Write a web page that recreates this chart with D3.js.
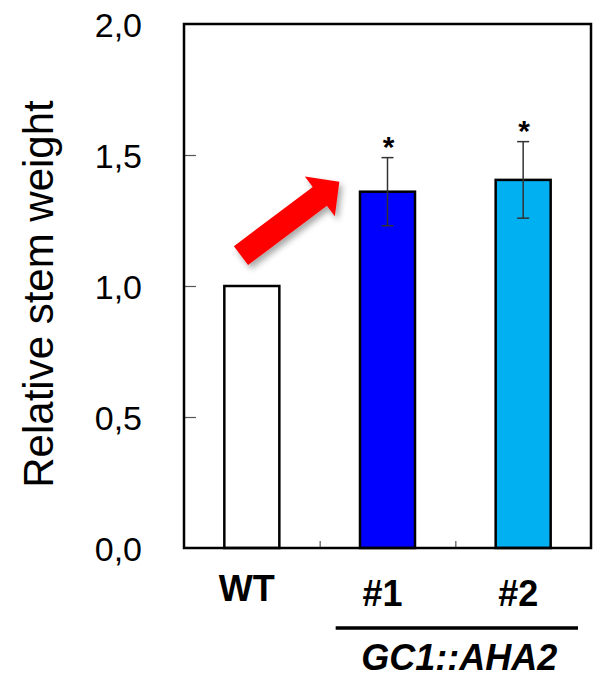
<!DOCTYPE html>
<html>
<head>
<meta charset="utf-8">
<script src="https://cdn.jsdelivr.net/npm/d3@7"></script>
<style>
  body { margin: 0; background: #fff; }
  svg { display: block; }
</style>
</head>
<body>
<div id="chart"></div>
<script>
// data
var categories = ["WT", "#1", "#2"];
var values = [1.0, 1.36, 1.405];
var errors = [0, 0.13, 0.146];
var significant = [false, true, true];
var barColors = ["#ffffff", "#0000ff", "#00b0f0"];
var yTicks = [0, 0.5, 1.0, 1.5, 2.0];
var yLabel = "Relative stem weight";
var groupLabel = "GC1::AHA2";
var groupMembers = ["#1", "#2"];

var width = 596, height = 679;
var plotLeft = 184, plotRight = 591, plotTop = 24, plotBottom = 548;
var font = "'Liberation Sans', Arial, Helvetica, sans-serif";

var svg = d3.select("#chart").append("svg")
  .attr("width", width)
  .attr("height", height)
  .style("font-family", font);

var x = d3.scaleBand().domain(categories).range([plotLeft, plotRight]).padding(0);
var xPos = d3.scaleLinear().domain([0, categories.length]).range([plotLeft, plotRight]);
var y = d3.scaleLinear().domain([0, 2]).range([plotBottom, plotTop]);
var barWidth = 55;

var comma = d3.formatLocale({ decimal: ",", thousands: ".", grouping: [3], currency: ["", ""] }).format(".1f");

// tick labels (left side)
var yAxisLabels = svg.append("g")
  .attr("transform", "translate(" + plotLeft + ",0)")
  .call(d3.axisLeft(y).tickValues(yTicks).tickSize(0).tickPadding(42).tickFormat(comma));
yAxisLabels.select(".domain").remove();
yAxisLabels.selectAll("text")
  .attr("dy", "0.37em")
  .style("font-family", font)
  .style("font-size", "34px")
  .attr("fill", "#000");

// inward ticks
var yInner = svg.append("g")
  .attr("transform", "translate(" + plotLeft + ",0)")
  .call(d3.axisRight(y).tickValues([0.5, 1.0, 1.5]).tickSize(12).tickFormat(""));
yInner.select(".domain").remove();
yInner.selectAll("line").attr("stroke", "#555").attr("stroke-width", 1.2);

// x ticks at band boundaries
var xInner = svg.append("g")
  .attr("transform", "translate(0," + plotBottom + ")")
  .call(d3.axisTop(xPos).tickValues([1, 2]).tickSize(7).tickFormat(""));
xInner.select(".domain").remove();
xInner.selectAll("line").attr("stroke", "#555").attr("stroke-width", 1.2);

// y axis title
svg.append("text")
  .attr("transform", "translate(53,294) rotate(-90)")
  .attr("text-anchor", "middle")
  .style("font-size", "42px")
  .text(yLabel);

// red arrow annotation with drop shadow
var defs = svg.append("defs");
var filt = defs.append("filter").attr("id", "shadow")
  .attr("x", "-30%").attr("y", "-30%").attr("width", "160%").attr("height", "160%");
filt.append("feDropShadow")
  .attr("dx", 3).attr("dy", 4).attr("stdDeviation", 3)
  .attr("flood-color", "#000").attr("flood-opacity", 0.35);

var tail = [xPos(0.42), y(1.116)];
var tip = [xPos(1.145), y(1.398)];
var dx = tip[0] - tail[0], dy = tip[1] - tail[1];
var len = Math.sqrt(dx * dx + dy * dy);
var ux = dx / len, uy = dy / len, nx = -uy, ny = ux;
var shaftHalf = 11.8, headHalf = 25, headLen = 24.4;
var neck = [tip[0] - ux * headLen, tip[1] - uy * headLen];
var arrowPts = [
  [tail[0] + nx * shaftHalf, tail[1] + ny * shaftHalf],
  [neck[0] + nx * shaftHalf, neck[1] + ny * shaftHalf],
  [neck[0] + nx * headHalf, neck[1] + ny * headHalf],
  tip,
  [neck[0] - nx * headHalf, neck[1] - ny * headHalf],
  [neck[0] - nx * shaftHalf, neck[1] - ny * shaftHalf],
  [tail[0] - nx * shaftHalf, tail[1] - ny * shaftHalf]
];
svg.append("path")
  .attr("d", d3.line()(arrowPts) + "Z")
  .attr("fill", "#ff0000")
  .attr("filter", "url(#shadow)");

// bars
svg.selectAll("rect.bar")
  .data(categories)
  .enter().append("rect")
  .attr("class", "bar")
  .attr("x", function(d) { return x(d) + x.bandwidth() / 2 - barWidth / 2; })
  .attr("y", function(d, i) { return y(values[i]); })
  .attr("width", barWidth)
  .attr("height", function(d, i) { return plotBottom - y(values[i]); })
  .attr("fill", function(d, i) { return barColors[i]; })
  .attr("stroke", "#000")
  .attr("stroke-width", 2.5);

// error bars
var errG = svg.append("g").attr("stroke", "#333").attr("stroke-width", 1.5);
categories.forEach(function(c, i) {
  if (!errors[i]) return;
  var cx = x(c) + x.bandwidth() / 2;
  errG.append("line").attr("x1", cx).attr("x2", cx)
    .attr("y1", y(values[i] + errors[i])).attr("y2", y(values[i] - errors[i]));
  errG.append("line").attr("x1", cx - 6).attr("x2", cx + 6)
    .attr("y1", y(values[i] + errors[i])).attr("y2", y(values[i] + errors[i]));
  errG.append("line").attr("x1", cx - 6).attr("x2", cx + 6)
    .attr("y1", y(values[i] - errors[i])).attr("y2", y(values[i] - errors[i]));
});

// significance stars
svg.selectAll("text.star")
  .data(categories.filter(function(d, i) { return significant[i]; }))
  .enter().append("text")
  .attr("class", "star")
  .attr("x", function(d) { return x(d) + x.bandwidth() / 2 + 1; })
  .attr("y", function(d) { var i = categories.indexOf(d); return y(values[i] + errors[i]) - 1; })
  .attr("text-anchor", "middle")
  .style("font-size", "30px")
  .style("font-weight", "bold")
  .text("*");

// frame
svg.append("rect")
  .attr("x", plotLeft).attr("y", plotTop)
  .attr("width", plotRight - plotLeft).attr("height", plotBottom - plotTop)
  .attr("fill", "none").attr("stroke", "#000").attr("stroke-width", 2.5);

// category labels
svg.selectAll("text.cat")
  .data(categories)
  .enter().append("text")
  .attr("class", "cat")
  .attr("x", function(d) { return x(d) + x.bandwidth() / 2 - 5; })
  .attr("y", function(d, i) { return i === 0 ? 601 : 606; })
  .attr("text-anchor", "middle")
  .style("font-size", "36px")
  .style("font-weight", "bold")
  .text(function(d) { return d; });

// group bracket + label
var g0 = x(groupMembers[0]), g1 = x(groupMembers[groupMembers.length - 1]) + x.bandwidth();
svg.append("line")
  .attr("x1", g0 + 16).attr("x2", g1 - 13)
  .attr("y1", 628).attr("y2", 628)
  .attr("stroke", "#000").attr("stroke-width", 3.5);
svg.append("text")
  .attr("x", (g0 + g1) / 2 + 4)
  .attr("y", 670)
  .attr("text-anchor", "middle")
  .style("font-size", "36px")
  .style("font-weight", "bold")
  .style("font-style", "italic")
  .text(groupLabel);
</script>
</body>
</html>
